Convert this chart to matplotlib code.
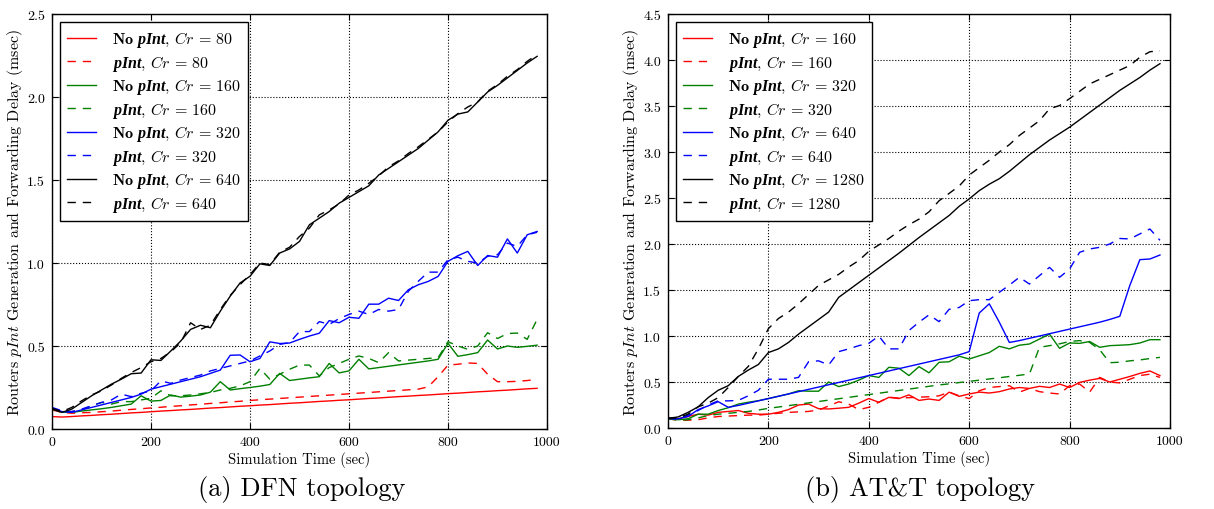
import matplotlib
matplotlib.use("Agg")
import matplotlib.pyplot as plt

plt.rcParams['font.family'] = ['cmr10', 'DejaVu Serif']
plt.rcParams['axes.formatter.use_mathtext'] = True
plt.rcParams['mathtext.fontset'] = 'custom'
plt.rcParams['mathtext.rm'] = 'cmr10'
plt.rcParams['mathtext.it'] = 'cmmi10'
plt.rcParams['mathtext.bf'] = 'cmb10'
plt.rcParams['mathtext.bfit'] = 'Liberation Serif:italic:bold'

# ---------------- data ----------------
time_sec = [0, 20, 40, 60, 80, 100, 120, 140, 160, 180, 200, 220, 240, 260, 280,
            300, 320, 340, 360, 380, 400, 420, 440, 460, 480, 500, 520, 540, 560, 580,
            600, 620, 640, 660, 680, 700, 720, 740, 760, 780, 800, 820, 840, 860, 880,
            900, 920, 940, 960, 980]

# (a) DFN topology
dfn_nopint_80 = [0.075, 0.072, 0.075, 0.079, 0.082, 0.086, 0.089, 0.093, 0.097, 0.100,
                 0.104, 0.108, 0.111, 0.115, 0.118, 0.122, 0.126, 0.129, 0.133, 0.137,
                 0.140, 0.144, 0.147, 0.151, 0.155, 0.158, 0.162, 0.166, 0.169, 0.173,
                 0.176, 0.180, 0.184, 0.187, 0.191, 0.195, 0.198, 0.202, 0.205, 0.209,
                 0.213, 0.216, 0.220, 0.224, 0.227, 0.231, 0.234, 0.238, 0.242, 0.245]
dfn_pint_80 = [0.115, 0.100, 0.095, 0.098, 0.100, 0.104, 0.108, 0.113, 0.118, 0.122,
               0.127, 0.131, 0.136, 0.140, 0.145, 0.149, 0.154, 0.158, 0.163, 0.167,
               0.172, 0.176, 0.180, 0.184, 0.188, 0.192, 0.196, 0.200, 0.204, 0.208,
               0.212, 0.216, 0.220, 0.224, 0.228, 0.232, 0.236, 0.240, 0.254, 0.315,
               0.385, 0.390, 0.398, 0.395, 0.330, 0.285, 0.285, 0.287, 0.292, 0.298]
dfn_nopint_160 = [0.120, 0.102, 0.100, 0.108, 0.115, 0.122, 0.130, 0.140, 0.150, 0.200,
                  0.168, 0.172, 0.205, 0.192, 0.198, 0.205, 0.222, 0.285, 0.235, 0.243,
                  0.250, 0.258, 0.268, 0.335, 0.292, 0.300, 0.308, 0.315, 0.395, 0.338,
                  0.350, 0.420, 0.362, 0.370, 0.378, 0.386, 0.394, 0.402, 0.410, 0.420,
                  0.516, 0.438, 0.448, 0.460, 0.536, 0.482, 0.500, 0.492, 0.498, 0.505]
dfn_pint_160 = [0.125, 0.105, 0.105, 0.115, 0.140, 0.160, 0.150, 0.165, 0.165, 0.175,
                0.185, 0.230, 0.200, 0.200, 0.205, 0.212, 0.220, 0.235, 0.245, 0.260,
                0.285, 0.365, 0.300, 0.330, 0.360, 0.385, 0.385, 0.320, 0.370, 0.395,
                0.420, 0.440, 0.425, 0.400, 0.460, 0.410, 0.415, 0.420, 0.425, 0.430,
                0.526, 0.500, 0.480, 0.500, 0.580, 0.545, 0.575, 0.578, 0.540, 0.660]
dfn_nopint_320 = [0.125, 0.105, 0.100, 0.115, 0.130, 0.145, 0.160, 0.175, 0.190, 0.210,
                  0.240, 0.255, 0.270, 0.285, 0.300, 0.315, 0.335, 0.355, 0.444, 0.446,
                  0.405, 0.425, 0.525, 0.515, 0.518, 0.540, 0.560, 0.577, 0.653, 0.640,
                  0.673, 0.667, 0.752, 0.752, 0.788, 0.774, 0.839, 0.869, 0.889, 0.919,
                  1.010, 1.044, 1.070, 0.985, 1.045, 1.035, 1.145, 1.060, 1.170, 1.190]
dfn_pint_320 = [0.130, 0.110, 0.105, 0.120, 0.140, 0.160, 0.175, 0.210, 0.195, 0.215,
                0.230, 0.290, 0.275, 0.295, 0.310, 0.325, 0.350, 0.365, 0.380, 0.395,
                0.410, 0.440, 0.470, 0.510, 0.520, 0.587, 0.587, 0.647, 0.630, 0.665,
                0.690, 0.710, 0.690, 0.720, 0.710, 0.720, 0.830, 0.890, 0.945, 0.945,
                1.020, 1.035, 1.010, 1.000, 1.040, 1.050, 1.120, 1.100, 1.170, 1.185]
dfn_nopint_640 = [0.120, 0.100, 0.120, 0.160, 0.200, 0.235, 0.270, 0.300, 0.333, 0.337,
                  0.417, 0.413, 0.470, 0.530, 0.600, 0.625, 0.610, 0.710, 0.800, 0.880,
                  0.920, 0.995, 0.985, 1.060, 1.085, 1.130, 1.230, 1.270, 1.310, 1.360,
                  1.395, 1.430, 1.465, 1.530, 1.570, 1.610, 1.650, 1.690, 1.740, 1.790,
                  1.860, 1.897, 1.910, 1.970, 2.030, 2.070, 2.115, 2.160, 2.205, 2.245]
dfn_pint_640 = [0.125, 0.105, 0.130, 0.170, 0.205, 0.230, 0.265, 0.305, 0.340, 0.370,
                0.405, 0.425, 0.465, 0.520, 0.640, 0.600, 0.625, 0.720, 0.805, 0.870,
                0.930, 1.000, 0.990, 1.065, 1.095, 1.160, 1.210, 1.290, 1.320, 1.355,
                1.410, 1.440, 1.480, 1.525, 1.580, 1.615, 1.660, 1.700, 1.745, 1.790,
                1.850, 1.900, 1.940, 1.970, 2.035, 2.075, 2.125, 2.165, 2.215, 2.255]

# (b) AT&T topology
att_nopint_160 = [0.105, 0.100, 0.125, 0.150, 0.140, 0.170, 0.180, 0.190, 0.160, 0.150,
                  0.150, 0.170, 0.200, 0.250, 0.260, 0.210, 0.207, 0.215, 0.225, 0.270,
                  0.320, 0.280, 0.333, 0.320, 0.360, 0.300, 0.315, 0.300, 0.390, 0.344,
                  0.370, 0.390, 0.380, 0.395, 0.424, 0.440, 0.430, 0.453, 0.440, 0.478,
                  0.440, 0.496, 0.520, 0.540, 0.500, 0.530, 0.560, 0.594, 0.620, 0.570]
att_pint_160 = [0.100, 0.085, 0.085, 0.090, 0.110, 0.125, 0.130, 0.135, 0.140, 0.140,
                0.150, 0.160, 0.170, 0.175, 0.180, 0.195, 0.240, 0.285, 0.260, 0.200,
                0.225, 0.280, 0.335, 0.325, 0.330, 0.335, 0.340, 0.350, 0.390, 0.350,
                0.320, 0.405, 0.440, 0.450, 0.460, 0.390, 0.430, 0.395, 0.380, 0.370,
                0.460, 0.478, 0.390, 0.550, 0.500, 0.490, 0.530, 0.570, 0.585, 0.550]
att_nopint_320 = [0.105, 0.090, 0.100, 0.150, 0.150, 0.190, 0.220, 0.260, 0.280, 0.297,
                  0.320, 0.345, 0.370, 0.405, 0.400, 0.400, 0.500, 0.450, 0.478, 0.520,
                  0.570, 0.550, 0.660, 0.650, 0.570, 0.667, 0.600, 0.714, 0.720, 0.780,
                  0.750, 0.785, 0.820, 0.888, 0.860, 0.900, 0.913, 0.967, 1.020, 0.866,
                  0.924, 0.920, 0.940, 0.877, 0.895, 0.900, 0.906, 0.924, 0.960, 0.960]
att_pint_320 = [0.100, 0.085, 0.090, 0.110, 0.135, 0.150, 0.160, 0.170, 0.180, 0.195,
                0.214, 0.228, 0.243, 0.258, 0.273, 0.288, 0.303, 0.318, 0.333, 0.348,
                0.363, 0.378, 0.393, 0.408, 0.423, 0.438, 0.453, 0.468, 0.480, 0.494,
                0.507, 0.520, 0.533, 0.546, 0.560, 0.573, 0.587, 0.877, 0.895, 0.915,
                0.940, 0.950, 0.930, 0.850, 0.710, 0.715, 0.730, 0.740, 0.755, 0.768]
att_nopint_640 = [0.105, 0.100, 0.125, 0.200, 0.240, 0.286, 0.225, 0.245, 0.270, 0.295,
                  0.320, 0.345, 0.370, 0.395, 0.420, 0.445, 0.470, 0.495, 0.520, 0.545,
                  0.570, 0.595, 0.620, 0.645, 0.670, 0.695, 0.720, 0.745, 0.770, 0.795,
                  0.830, 1.250, 1.350, 1.150, 0.930, 0.950, 0.975, 1.000, 1.025, 1.050,
                  1.075, 1.100, 1.125, 1.150, 1.180, 1.214, 1.550, 1.830, 1.837, 1.880]
att_pint_640 = [0.105, 0.095, 0.140, 0.190, 0.250, 0.295, 0.295, 0.300, 0.350, 0.410,
                0.530, 0.530, 0.530, 0.550, 0.720, 0.730, 0.685, 0.830, 0.860, 0.895,
                0.920, 1.000, 0.860, 0.860, 1.060, 1.150, 1.230, 1.156, 1.290, 1.310,
                1.384, 1.395, 1.395, 1.475, 1.554, 1.638, 1.565, 1.656, 1.746, 1.638,
                1.728, 1.910, 1.946, 1.964, 2.000, 2.060, 2.055, 2.110, 2.163, 2.040]
att_nopint_1280 = [0.105, 0.120, 0.170, 0.230, 0.330, 0.410, 0.460, 0.560, 0.630, 0.690,
                   0.820, 0.860, 0.930, 1.020, 1.100, 1.180, 1.260, 1.420, 1.500, 1.580,
                   1.660, 1.740, 1.820, 1.900, 1.985, 2.070, 2.150, 2.230, 2.310, 2.410,
                   2.490, 2.580, 2.650, 2.710, 2.790, 2.880, 2.970, 3.050, 3.130, 3.200,
                   3.270, 3.350, 3.430, 3.510, 3.590, 3.670, 3.740, 3.810, 3.890, 3.960]
att_pint_1280 = [0.105, 0.110, 0.150, 0.230, 0.270, 0.330, 0.440, 0.560, 0.670, 0.860,
                 1.080, 1.190, 1.260, 1.350, 1.450, 1.550, 1.610, 1.670, 1.750, 1.820,
                 1.920, 1.990, 2.060, 2.140, 2.210, 2.270, 2.350, 2.470, 2.550, 2.630,
                 2.750, 2.830, 2.910, 3.000, 3.080, 3.180, 3.260, 3.340, 3.470, 3.505,
                 3.580, 3.660, 3.740, 3.790, 3.840, 3.890, 3.940, 4.030, 4.090, 4.100]

dfn_cr = ['80', '160', '320', '640']
att_cr = ['160', '320', '640', '1280']
colors = ['#ff0000', '#008000', '#0000ff', '#000000']

dfn_series = [(dfn_nopint_80, dfn_pint_80), (dfn_nopint_160, dfn_pint_160),
              (dfn_nopint_320, dfn_pint_320), (dfn_nopint_640, dfn_pint_640)]
att_series = [(att_nopint_160, att_pint_160), (att_nopint_320, att_pint_320),
              (att_nopint_640, att_pint_640), (att_nopint_1280, att_pint_1280)]

x_ticks = [0, 200, 400, 600, 800, 1000]
dfn_yticks = [0.0, 0.5, 1.0, 1.5, 2.0, 2.5]
att_yticks = [0.0, 0.5, 1.0, 1.5, 2.0, 2.5, 3.0, 3.5, 4.0, 4.5]

ylabel = r'Routers $\mathit{pInt}$ Generation and Forwarding Delay (msec)'
xlabel = 'Simulation Time (sec)'
captions = ['(a) DFN topology', '(b) AT&T topology']

# ---------------- figure ----------------
fig = plt.figure(figsize=(12.14, 5.10), dpi=100)
ax1 = fig.add_axes([52 / 1214, 1 - 430 / 510, 495 / 1214, 415 / 510])
ax2 = fig.add_axes([668 / 1214, 1 - 429 / 510, 502 / 1214, 414 / 510])


def draw(ax, series, crs, yticks, ymax):
    for (nop, p), cr, c in zip(series, crs, colors):
        ax.plot(time_sec, nop, color=c, lw=1.0, ls='-',
                label=r'$\mathbf{No}\ \mathbfit{pInt}$, $Cr\,=\,%s$' % cr)
        ax.plot(time_sec, p, color=c, lw=1.0, ls=(0, (6, 5)),
                label=r'$\mathbfit{pInt}$, $Cr\,=\,%s$' % cr)
    ax.set_xlim(0, 1000)
    ax.set_ylim(0, ymax)
    ax.set_xticks(x_ticks)
    ax.set_yticks(yticks)
    ax.set_xticklabels([str(v) for v in x_ticks])
    ax.set_yticklabels(['%.1f' % v for v in yticks])
    ax.tick_params(direction='in', top=True, right=True, length=4, width=0.8,
                   labelsize=10, pad=5)
    ax.grid(True, color='black', ls=':', lw=0.8)
    for s in ax.spines.values():
        s.set_linewidth(1.0)
    ax.set_xlabel(xlabel, fontsize=10.5, labelpad=2)
    ax.set_ylabel(ylabel, fontsize=11.5, labelpad=1.5)
    leg = ax.legend(loc='upper left', fontsize=11.5, frameon=True, fancybox=False,
                    edgecolor='black', framealpha=1.0, handlelength=1.8,
                    handletextpad=1.0, labelspacing=0.22, borderaxespad=0.5,
                    borderpad=0.45)
    leg.get_frame().set_linewidth(1.0)


draw(ax1, dfn_series, dfn_cr, dfn_yticks, 2.5)
draw(ax2, att_series, att_cr, att_yticks, 4.5)

fig.text(302 / 1214, 1 - 490 / 510, captions[0], fontsize=19, ha='center', va='center')
fig.text(920 / 1214, 1 - 490 / 510, captions[1], fontsize=19, ha='center', va='center')

fig.savefig('out.png', dpi=100)
